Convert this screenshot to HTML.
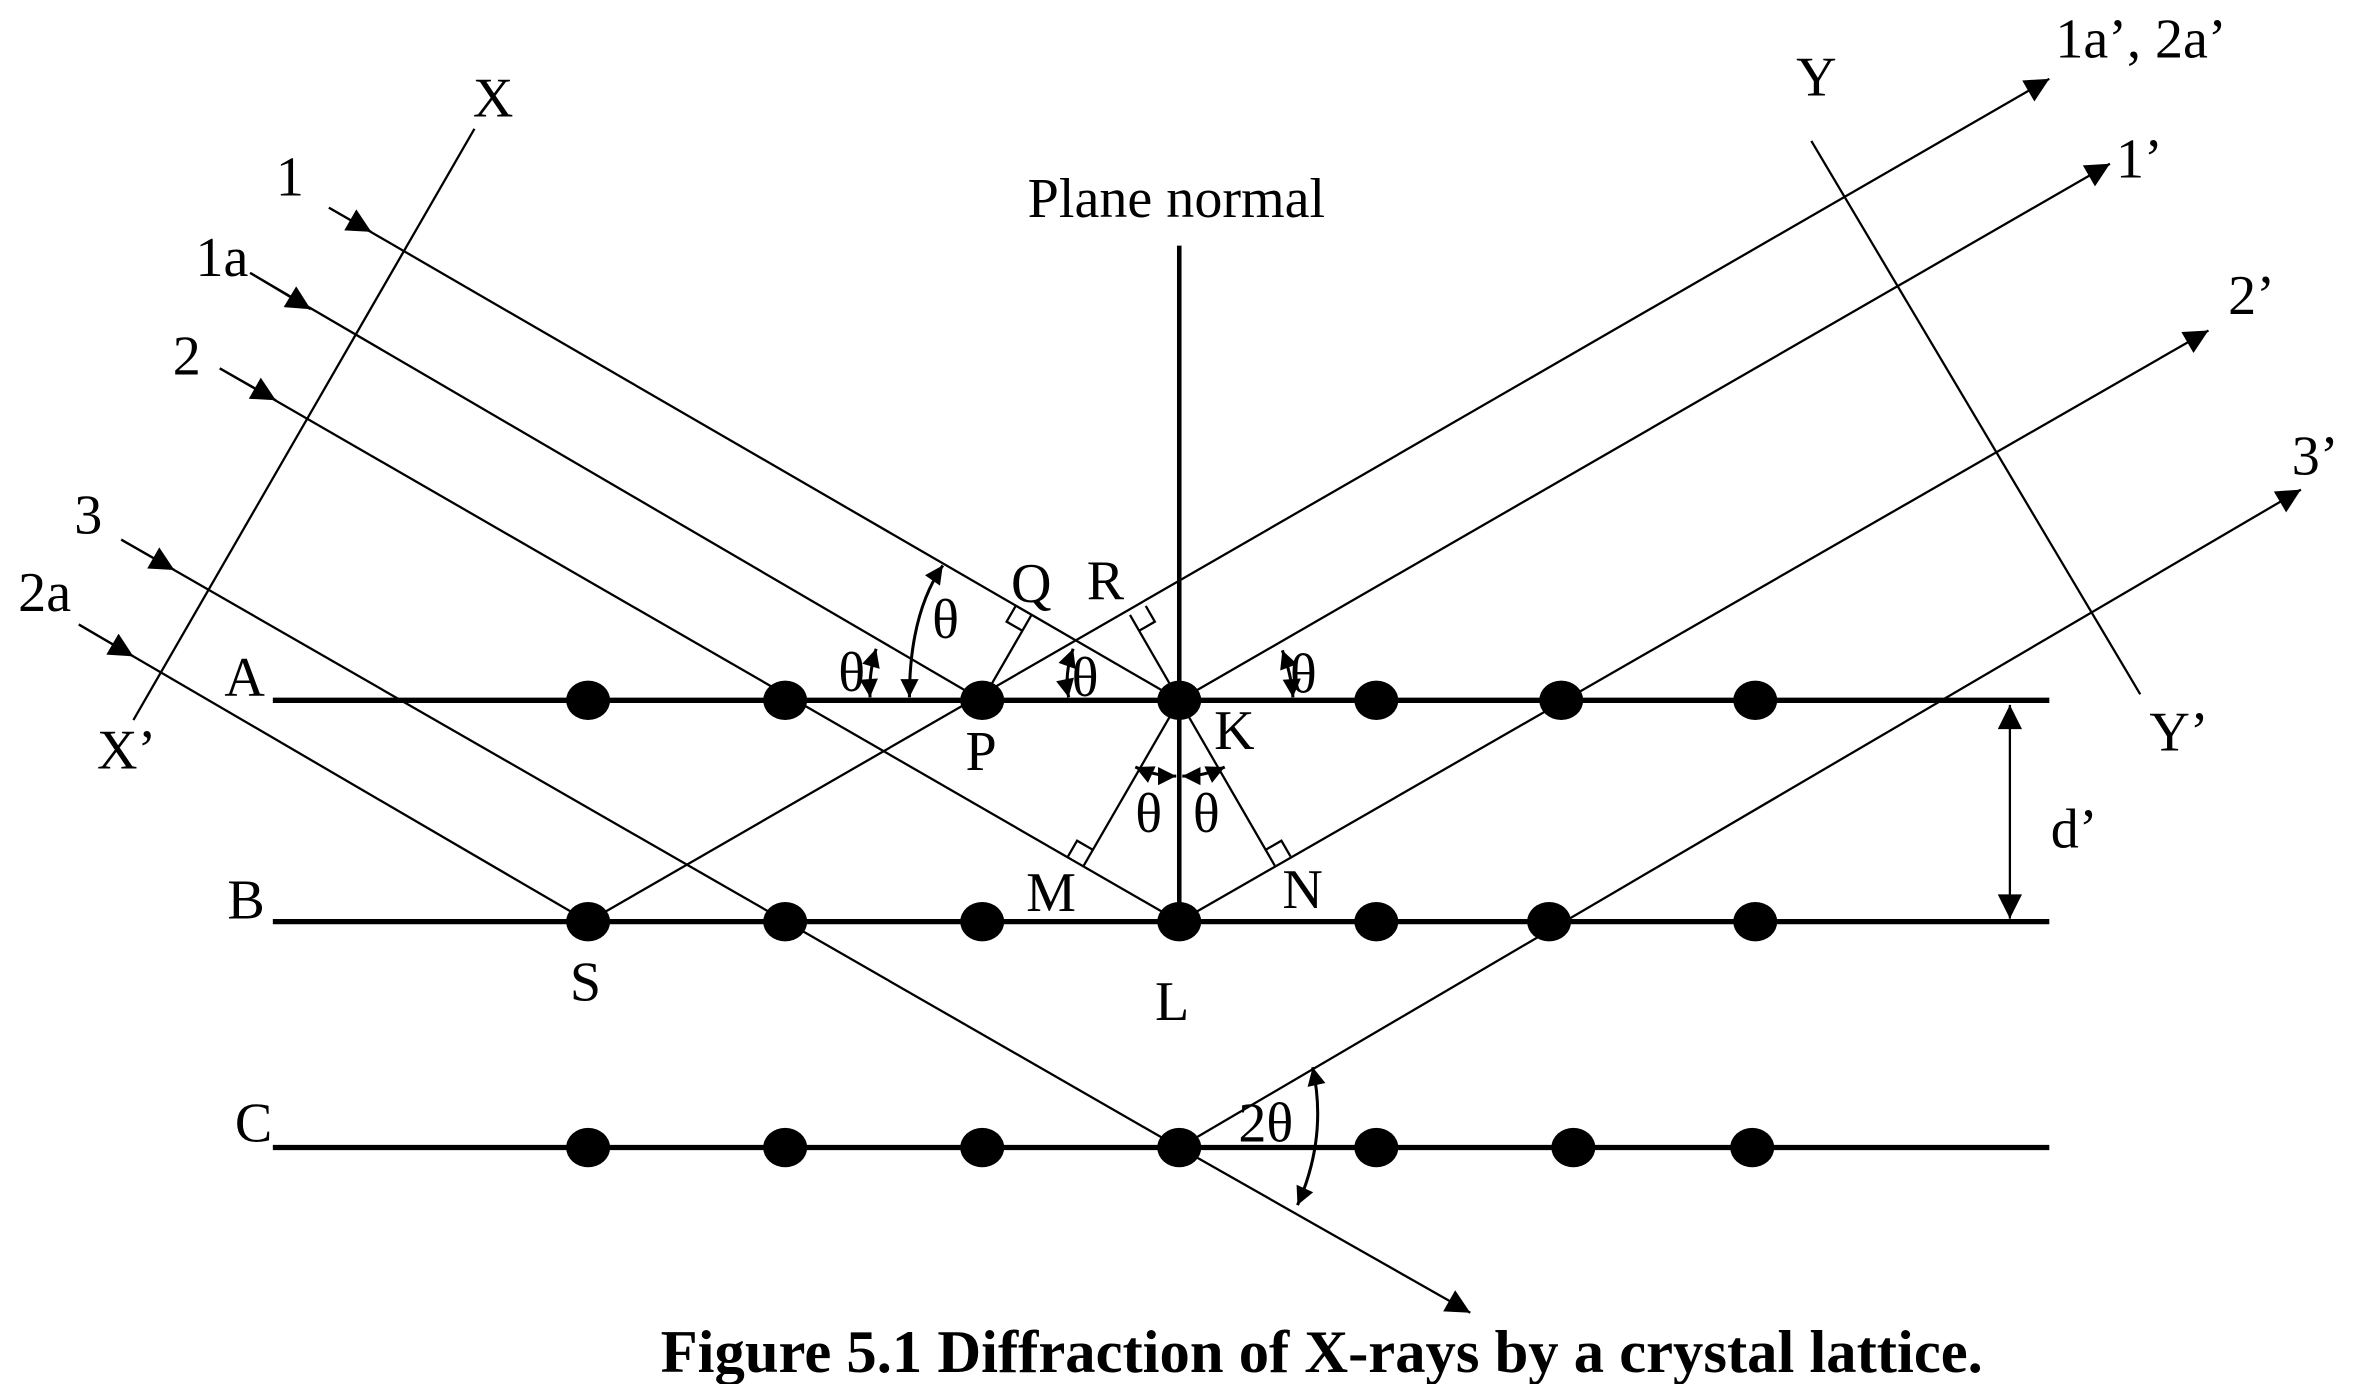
<!DOCTYPE html>
<html><head><meta charset="utf-8"><style>
html,body{margin:0;padding:0;background:#fff;}
svg{display:block;}
text{font-family:"Liberation Serif",serif;fill:#000;}
</style></head><body>
<svg width="2357" height="1384" viewBox="0 0 1555 913" preserveAspectRatio="none" xmlns="http://www.w3.org/2000/svg">
<defs>
<marker id="ahb" viewBox="0 0 10 10" refX="10" refY="5" markerWidth="20" markerHeight="16" markerUnits="userSpaceOnUse" orient="auto">
<path d="M0,0 L10,5 L0,10 z" fill="#000"/></marker>
<marker id="ahs" viewBox="0 0 10 10" refX="10" refY="5" markerWidth="14" markerHeight="12" markerUnits="userSpaceOnUse" orient="auto-start-reverse">
<path d="M0,0 L10,5 L0,10 z" fill="#000"/></marker>
</defs>
<g stroke="#000" fill="none">
<g stroke-width="3.5">
<line x1="180" y1="462" x2="1352" y2="462"/>
<line x1="180" y1="608" x2="1352" y2="608"/>
<line x1="180" y1="757" x2="1352" y2="757"/>
</g>
<line x1="778" y1="162" x2="778" y2="608" stroke-width="3"/>
<g stroke-width="1.5">
<line x1="313" y1="85" x2="88" y2="475"/>
<line x1="1195" y1="93" x2="1412" y2="458"/>
<line x1="217" y1="137" x2="778" y2="462"/>
<line x1="165" y1="180" x2="648" y2="462"/>
<line x1="145" y1="243" x2="778" y2="608"/>
<line x1="80" y1="356" x2="778" y2="757"/>
<line x1="778" y1="757" x2="970" y2="866" marker-end="url(#ahb)"/>
<line x1="52" y1="412" x2="388" y2="608"/>
<line x1="217" y1="137" x2="245" y2="153" marker-end="url(#ahb)"/>
<line x1="165" y1="180" x2="205" y2="204" marker-end="url(#ahb)"/>
<line x1="145" y1="243" x2="182" y2="264" marker-end="url(#ahb)"/>
<line x1="80" y1="356" x2="115" y2="376" marker-end="url(#ahb)"/>
<line x1="52" y1="412" x2="88" y2="433" marker-end="url(#ahb)"/>
<line x1="388" y1="608" x2="1352" y2="52" marker-end="url(#ahb)"/>
<line x1="778" y1="462" x2="1392" y2="108" marker-end="url(#ahb)"/>
<line x1="778" y1="608" x2="1457" y2="218" marker-end="url(#ahb)"/>
<line x1="778" y1="757" x2="1518" y2="323" marker-end="url(#ahb)"/>
<line x1="648" y1="462" x2="680.5" y2="405.7"/>
<line x1="778" y1="462" x2="745.5" y2="405.7"/>
<line x1="778" y1="462" x2="715" y2="571"/>
<line x1="778" y1="462" x2="841" y2="571"/>
<path d="M670.1,399.7 L664.1,410.1 L674.5,416.1"/>
<path d="M755.9,399.7 L761.9,410.1 L751.5,416.1"/>
<path d="M704.6,565 L710.6,554.6 L721,560.6"/>
<path d="M851.4,565 L845.4,554.6 L835,560.6"/>
<line x1="1326" y1="535" x2="1326" y2="465" marker-end="url(#ahb)"/>
<line x1="1326" y1="535" x2="1326" y2="606" marker-end="url(#ahb)"/>
<path d="M600,460 Q600,405 622,373" marker-end="url(#ahs)" marker-start="url(#ahs)" stroke-width="2"/>
<path d="M574,460 Q573,445 578,428" marker-end="url(#ahs)" marker-start="url(#ahs)" stroke-width="2"/>
<path d="M705,460 Q702,445 708,428" marker-end="url(#ahs)" marker-start="url(#ahs)" stroke-width="2"/>
<path d="M853,460 Q852,445 846,429" marker-end="url(#ahs)" marker-start="url(#ahs)" stroke-width="2"/>
<path d="M749,506 Q762,512 776,512" marker-end="url(#ahs)" marker-start="url(#ahs)" stroke-width="2"/>
<path d="M780,512 Q795,512 808,506" marker-end="url(#ahs)" marker-start="url(#ahs)" stroke-width="2"/>
<path d="M866,704 Q876,750 856,795" marker-end="url(#ahs)" marker-start="url(#ahs)" stroke-width="2"/>
</g>
</g>
<g fill="#000">
<ellipse cx="388" cy="462" rx="14.5" ry="13"/><ellipse cx="518" cy="462" rx="14.5" ry="13"/><ellipse cx="648" cy="462" rx="14.5" ry="13"/><ellipse cx="778" cy="462" rx="14.5" ry="13"/><ellipse cx="908" cy="462" rx="14.5" ry="13"/><ellipse cx="1030" cy="462" rx="14.5" ry="13"/><ellipse cx="1158" cy="462" rx="14.5" ry="13"/>
<ellipse cx="388" cy="608" rx="14.5" ry="13"/><ellipse cx="518" cy="608" rx="14.5" ry="13"/><ellipse cx="648" cy="608" rx="14.5" ry="13"/><ellipse cx="778" cy="608" rx="14.5" ry="13"/><ellipse cx="908" cy="608" rx="14.5" ry="13"/><ellipse cx="1022" cy="608" rx="14.5" ry="13"/><ellipse cx="1158" cy="608" rx="14.5" ry="13"/>
<ellipse cx="388" cy="757" rx="14.5" ry="13"/><ellipse cx="518" cy="757" rx="14.5" ry="13"/><ellipse cx="648" cy="757" rx="14.5" ry="13"/><ellipse cx="778" cy="757" rx="14.5" ry="13"/><ellipse cx="908" cy="757" rx="14.5" ry="13"/><ellipse cx="1038" cy="757" rx="14.5" ry="13"/><ellipse cx="1156" cy="757" rx="14.5" ry="13"/>
</g>
<g font-size="37">
<text x="312" y="77">X</text>
<text x="64" y="507">X’</text>
<text x="1185" y="63">Y</text>
<text x="1418" y="495">Y’</text>
<text x="678" y="143">Plane normal</text>
<text x="182" y="129">1</text>
<text x="129" y="182">1a</text>
<text x="114" y="247">2</text>
<text x="49" y="352">3</text>
<text x="12" y="403">2a</text>
<text x="1356" y="38">1a’, 2a’</text>
<text x="1396" y="117">1’</text>
<text x="1470" y="207">2’</text>
<text x="1512" y="313">3’</text>
<text x="148" y="459">A</text>
<text x="150" y="606">B</text>
<text x="155" y="753">C</text>
<text x="667" y="397">Q</text>
<text x="717" y="395">R</text>
<text x="637" y="508">P</text>
<text x="801" y="494">K</text>
<text x="376" y="660">S</text>
<text x="762" y="673">L</text>
<text x="677" y="601">M</text>
<text x="846" y="599">N</text>
<text x="1353" y="559">d’</text>
<text x="553" y="456">θ</text>
<text x="615" y="421">θ</text>
<text x="707" y="459">θ</text>
<text x="851" y="457">θ</text>
<text x="749" y="549">θ</text>
<text x="787" y="549">θ</text>
<text x="817" y="753">2θ</text>
</g>
<text x="872" y="905" font-size="40" font-weight="bold" text-anchor="middle">Figure 5.1 Diffraction of X-rays by a crystal lattice.</text>
</svg>
</body></html>
